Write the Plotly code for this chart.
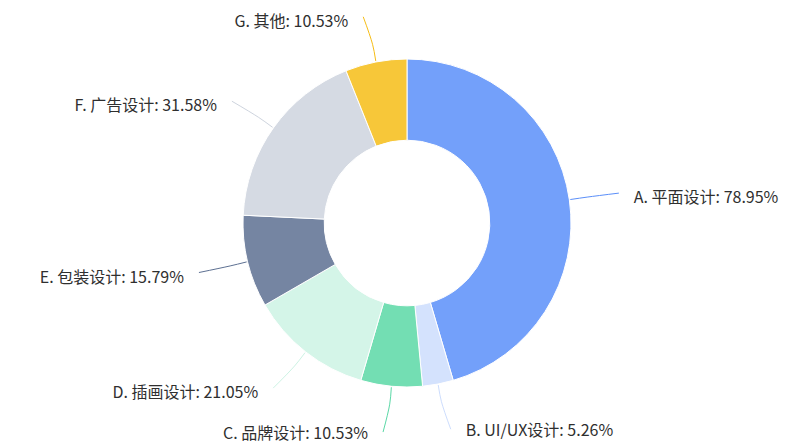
import numpy as np
import plotly.graph_objects as go

categories = ["A. 平面设计", "B. UI/UX设计", "C. 品牌设计", "D. 插画设计", "E. 包装设计", "F. 广告设计", "G. 其他"]
percentages = [78.95, 5.26, 10.53, 21.05, 15.79, 31.58, 10.53]
colors = ["91,143,249", "205,221,253", "90,216,166", "205,243,228", "93,112,146", "206,212,222", "246,189,22"]

W, H = 810, 445
cx, cy, R = 407, 223, 164
hole = 0.505

fill = [f"rgba({c},0.85)" for c in colors]
line_col = [f"rgb({c})" for c in colors]

fig = go.Figure()
fig.add_trace(go.Pie(
    labels=categories, values=percentages, sort=False, direction="clockwise", rotation=0,
    hole=hole, marker=dict(colors=fill, line=dict(color="white", width=1)),
    textinfo="none", hoverinfo="skip", showlegend=False,
    domain=dict(x=[(cx - R) / W, (cx + R) / W], y=[1 - (cy + R) / H, 1 - (cy - R) / H]),
))

vals = np.array(percentages, dtype=float)
cum = np.cumsum(vals) - vals / 2
theta = cum / vals.sum() * 2 * np.pi

for i, th in enumerate(theta):
    s, c = np.sin(th), np.cos(th)
    radii = [R + 1, R + 18, R + 46]
    xs = [cx + r * s for r in radii]
    ys = [cy - r * c for r in radii]
    side = 1 if s >= 0 else -1
    xs[2] += side * 4
    fig.add_trace(go.Scatter(x=xs, y=ys, mode="lines", line=dict(color=line_col[i], width=1, shape="spline"),
                             hoverinfo="skip", showlegend=False))
    dy = 6 if c > -0.9 else 3
    fig.add_trace(go.Scatter(
        x=[xs[2] + side * 15], y=[ys[2] + dy], mode="text",
        text=[f"{categories[i]}: {percentages[i]:.2f}%"],
        textposition="middle right" if side > 0 else "middle left",
        textfont=dict(family="Noto Sans CJK SC, Microsoft YaHei, sans-serif", size=16, color="#2f2f2f"),
        hoverinfo="skip", showlegend=False))

fig.update_layout(
    width=W, height=H, margin=dict(l=0, r=0, t=0, b=0),
    paper_bgcolor="white", plot_bgcolor="rgba(0,0,0,0)",
    xaxis=dict(range=[0, W], visible=False, fixedrange=True),
    yaxis=dict(range=[H, 0], visible=False, fixedrange=True),
    showlegend=False,
)
fig.write_html("out.html", config={"displayModeBar": False},
               post_script="document.body.style.margin='0px';document.body.style.overflow='hidden';")
